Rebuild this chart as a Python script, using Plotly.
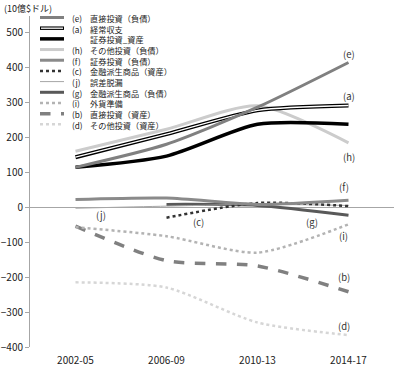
import plotly.graph_objects as go

categories = ["2002-05", "2006-09", "2010-13", "2014-17"]

e_fdi_liab = [114, 180, 286, 414]
a_current = [143, 209, 277, 291]
portfolio_assets = [114, 146, 237, 237]
h_other_liab = [160, 223, 290, 184]
f_portfolio_liab = [22, 26, 8, 20]
c_deriv_assets = [None, -30, 12, 3]
j_errors = [-3, 3, 8, 5]
g_deriv_liab = [None, 8, 5, -23]
i_reserves = [-57, -83, -130, -49]
b_fdi_assets = [-54, -153, -168, -242]
d_other_assets = [-215, -230, -330, -366]

tick_vals = [-400, -300, -200, -100, 0, 100, 200, 300, 400, 500]

series = [
    ("(e)", "直接投資（負債）", e_fdi_liab, "#808080", 3, "solid"),
    ("(a)", "経常収支", a_current, "#000000", 4, "solid"),
    ("", "証券投資_資産", portfolio_assets, "#000000", 3.5, "solid"),
    ("(h)", "その他投資（負債）", h_other_liab, "#cccccc", 3, "solid"),
    ("(f)", "証券投資（負債）", f_portfolio_liab, "#8a8a8a", 3, "solid"),
    ("(c)", "金融派生商品（資産）", c_deriv_assets, "#333333", 2.5, "dot"),
    ("(j)", "誤差脱漏", j_errors, "#a6a6a6", 1, "solid"),
    ("(g)", "金融派生商品（負債）", g_deriv_liab, "#595959", 3, "solid"),
    ("(i)", "外貨準備", i_reserves, "#b3b3b3", 2.5, "dot"),
    ("(b)", "直接投資（資産）", b_fdi_assets, "#808080", 3.5, "dash"),
    ("(d)", "その他投資（資産）", d_other_assets, "#d6d6d6", 2.5, "dot"),
]

end_labels = [
    ("(e)", 3, 437), ("(a)", 3, 317), ("(h)", 3, 144),
    ("(f)", 2.95, 57), ("(g)", 2.6, -43), ("(i)", 2.95, -82),
    ("(c)", 1.35, -43), ("(j)", 0.28, -22), ("(b)", 2.95, -200),
    ("(d)", 2.95, -341),
]

FONT = "Noto Sans CJK JP, Noto Sans, sans-serif"

fig = go.Figure()
for idx in list(range(len(series)))[::-1]:
    letter, name, vals, color, width, dash = series[idx]
    fig.add_trace(go.Scatter(
        x=categories, y=vals, mode="lines", name=letter + name,
        line=dict(color=color, width=width, dash=dash, shape="spline", smoothing=0.7),
        connectgaps=False, showlegend=False, hoverinfo="skip"))
    if name == "経常収支":
        fig.add_trace(go.Scatter(
            x=categories, y=vals, mode="lines",
            line=dict(color="white", width=1.3, shape="spline", smoothing=0.7),
            showlegend=False, hoverinfo="skip"))

W, H = 394, 375
L, R, T, B = 30, 0, 15.5, 28
PW, PH = W - L - R, H - T - B


def px(xp):
    return (xp - L) / PW


def py(yp):
    return (H - B - yp) / PH


shapes = []
annotations = []
row0, step = 17, 10.7
LEG_FS = 8.2
for k, (letter, name, vals, color, width, dash) in enumerate(series):
    yy = row0 + k * step
    lw = min(width, 3.5)
    shapes.append(dict(type="line", xref="paper", yref="paper",
                       x0=px(40), x1=px(64), y0=py(yy), y1=py(yy),
                       line=dict(color=color, width=lw, dash=dash)))
    if name == "経常収支":
        shapes.append(dict(type="line", xref="paper", yref="paper",
                           x0=px(41), x1=px(63), y0=py(yy), y1=py(yy),
                           line=dict(color="white", width=1.3)))

letters_block = "<br>".join((s[0] if s[0] else " ") for s in series)
names_block = "<br>".join(s[1] for s in series)
top_y = row0 - step / 2 - 1
annotations.append(dict(xref="paper", yref="paper", x=px(71), y=py(top_y),
                        text=letters_block, showarrow=False, xanchor="left",
                        yanchor="top", align="left", borderpad=0,
                        font=dict(size=LEG_FS, color="#222", family=FONT)))
annotations.append(dict(xref="paper", yref="paper", x=px(89), y=py(top_y),
                        text=names_block, showarrow=False, xanchor="left",
                        yanchor="top", align="left", borderpad=0,
                        font=dict(size=LEG_FS, color="#222", family=FONT)))

for text, xi, yv in end_labels:
    annotations.append(dict(x=xi, y=yv, xref="x", yref="y", text=text, showarrow=False,
                            xanchor="center", yanchor="middle",
                            font=dict(size=9.5, color="#333", family=FONT)))

annotations.append(dict(xref="paper", yref="paper", x=px(2), y=py(8), text="(10億$ドル)",
                        showarrow=False, xanchor="left", yanchor="middle",
                        font=dict(size=9, color="#222", family=FONT)))

fig.update_layout(
    width=W, height=H,
    margin=dict(l=L, r=R, t=T, b=B, pad=0),
    plot_bgcolor="white", paper_bgcolor="white",
    showlegend=False,
    shapes=shapes, annotations=annotations,
    font=dict(family=FONT, size=10, color="#333"),
    xaxis=dict(type="category", range=[-0.5, 3.5], showgrid=False, zeroline=False,
               showline=False, ticks="", tickfont=dict(size=10, color="#222"),
               ticklabelstandoff=6, fixedrange=True),
    yaxis=dict(range=[-400, 547], tickvals=tick_vals, showgrid=False,
               zeroline=True, zerolinecolor="#a6a6a6", zerolinewidth=1,
               showline=True, linecolor="#a6a6a6", linewidth=1,
               ticks="outside", ticklen=4, tickcolor="#a6a6a6",
               tickfont=dict(size=10, color="#222"), fixedrange=True),
)

fig.write_html("out.html")
